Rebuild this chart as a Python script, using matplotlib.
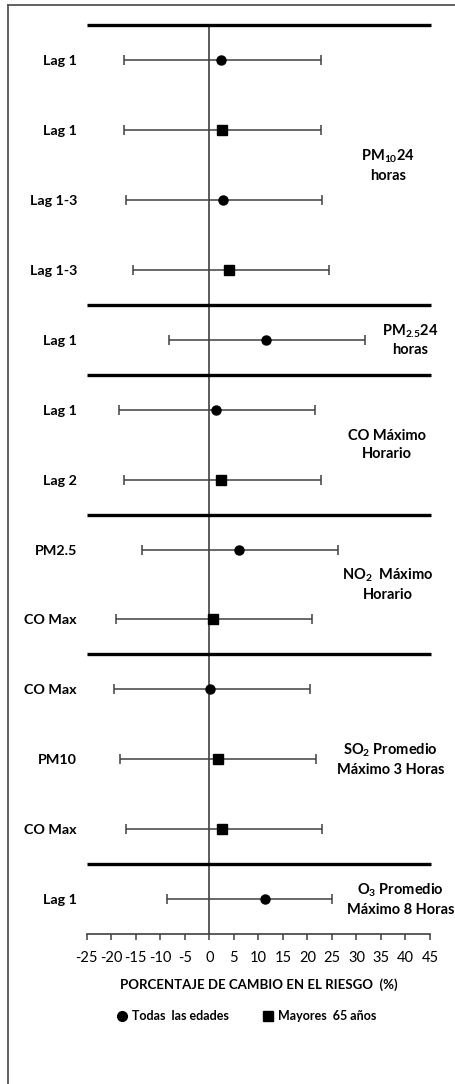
import matplotlib
matplotlib.use("Agg")
import matplotlib.pyplot as plt
from matplotlib.lines import Line2D

plt.rcParams['font.family'] = ['Lato', 'DejaVu Sans']
plt.rcParams['mathtext.fontset'] = 'custom'
plt.rcParams['mathtext.rm'] = 'Lato'
plt.rcParams['mathtext.bf'] = 'Lato:bold'
plt.rcParams['mathtext.default'] = 'bf'

# rows, top to bottom
row_labels = ['Lag 1', 'Lag 1', 'Lag 1-3', 'Lag 1-3', 'Lag 1', 'Lag 1', 'Lag 2',
              'PM2.5', 'CO Max', 'CO Max', 'PM10', 'CO Max', 'Lag 1']
estimate = [2.45, 2.65, 2.9, 4.0, 11.6, 1.4, 2.45, 6.05, 0.8, 0.1, 1.7, 2.6, 11.4]
lower = [-17.3, -17.3, -17.0, -15.6, -8.2, -18.4, -17.3, -13.8, -19.1, -19.5, -18.2, -17.0, -8.6]
upper = [22.8, 22.8, 23.0, 24.4, 31.7, 21.6, 22.8, 26.2, 20.9, 20.5, 21.8, 23.0, 25.1]
age_group = ['todas', 'mayores', 'todas', 'mayores', 'todas', 'todas', 'mayores',
             'todas', 'mayores', 'todas', 'mayores', 'mayores', 'todas']

# pollutant blocks: label, rows covered (first, last, 1-based)
group_names = [r'PM$_{10}$24' + '\nhoras',
               r'PM$_{2.5}$24' + '\nhoras',
               'CO Máximo\nHorario',
               r'NO$_{2}$  Máximo' + '\nHorario',
               r'SO$_{2}$ Promedio' + '\nMáximo 3 Horas',
               r'O$_{3}$ Promedio' + '\nMáximo 8 Horas']
group_rows = [(1, 4), (5, 5), (6, 7), (8, 9), (10, 12), (13, 13)]

xticks = list(range(-25, 50, 5))

fig = plt.figure(figsize=(4.56, 10.84), dpi=100)
ax = fig.add_axes([0.190, 0.1384, 0.753, 0.8383])

grey = '#404040'
y = list(range(1, len(row_labels) + 1))
for yi, est, lo, hi, g in zip(y, estimate, lower, upper, age_group):
    mk = 'o' if g == 'todas' else 's'
    ms = 6.5 if g == 'todas' else 7
    ax.errorbar(est, yi, xerr=[[est - lo], [hi - est]], fmt=mk, color='black',
                ms=ms, ecolor=grey, elinewidth=1.1, capsize=3.5, capthick=1.1,
                zorder=3)

# zero line
ax.axvline(0, color=grey, lw=1.2, zorder=1)

# block separators (top line + between blocks)
for first, last in group_rows:
    ax.plot([-25, 45.3], [first - 0.5, first - 0.5], color='black', lw=2.4,
            solid_capstyle='butt', clip_on=False, zorder=2)

# group labels on right
label_x = [36.4, 40.9, 36.2, 36.4, 37.0, 39.0]
for name, (first, last), lx in zip(group_names, group_rows, label_x):
    yc = (first + last) / 2
    if first == 10:
        yc = 11
    ax.text(lx, yc, name, ha='center', va='center', fontsize=10.5,
            fontweight='bold', linespacing=1.35, clip_on=False)

ax.set_xlim(-25, 45)
ax.set_ylim(13.5, 0.5)
ax.set_xticks(xticks)
ax.set_xticklabels([str(t) for t in xticks], fontsize=10.5)
ax.set_yticks(y)
ax.set_yticklabels(row_labels, fontsize=10.3, fontweight='bold')
ax.tick_params(axis='y', length=0, pad=7)
ax.tick_params(axis='x', direction='out', length=4, width=1.1, color=grey, pad=8)

for s in ['top', 'right', 'left']:
    ax.spines[s].set_visible(False)
ax.spines['bottom'].set_color(grey)
ax.spines['bottom'].set_linewidth(1.2)

ax.set_xlabel('PORCENTAJE DE CAMBIO EN EL RIESGO  (%)', fontsize=9.5,
              fontweight='bold', labelpad=10)

handles = [Line2D([], [], marker='o', color='black', ls='none', ms=7),
           Line2D([], [], marker='s', color='black', ls='none', ms=7)]
fig.legend(handles, ['Todas  las edades', 'Mayores  65 años'], ncol=2,
           loc='center', bbox_to_anchor=(246 / 456, 1 - 1016 / 1084),
           frameon=False, prop={'size': 9, 'weight': 'bold'},
           handletextpad=0.3, columnspacing=2.6, handlelength=1.0)

# outer frame (left and top edges)
fig.add_artist(Line2D([8 / 456, 8 / 456], [0, 1 - 5 / 1084], color='#555555', lw=1.3))
fig.add_artist(Line2D([8 / 456, 1], [1 - 5 / 1084, 1 - 5 / 1084], color='#555555', lw=1.3))

fig.savefig('out.png', dpi=100)
